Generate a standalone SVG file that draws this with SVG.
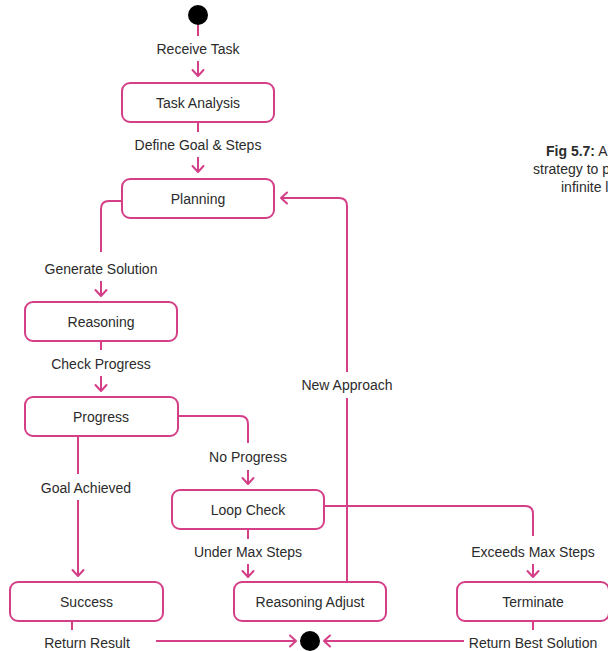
<svg xmlns="http://www.w3.org/2000/svg" width="608" height="651" viewBox="0 0 608 651">
  <style>
    .box { fill: #ffffff; stroke: #d43f88; stroke-width: 2; }
    .wire { fill: none; stroke: #d43f88; stroke-width: 2; }
    .lbl { font-family: "Liberation Sans", Arial, Helvetica, sans-serif; font-size: 14px; fill: #2b2b2b; text-anchor: middle; }
    .cap { font-family: "Liberation Sans", Arial, Helvetica, sans-serif; font-size: 14px; fill: #2b2b2b; }
    .dot { fill: #000000; }
  </style>
  <defs>
    <marker id="arr" markerUnits="userSpaceOnUse" markerWidth="14" markerHeight="14" refX="11" refY="7" orient="auto">
      <path d="M5,1.5 L11,7 L5,12.5" fill="none" stroke="#d43f88" stroke-width="2" stroke-linecap="round" stroke-linejoin="round"/>
    </marker>
  </defs>

  <rect width="608" height="651" fill="#ffffff"/>

  <!-- caption -->
  <g id="caption">
    <text class="cap" x="546" y="156"><tspan font-weight="bold">Fig 5.7:</tspan> A</text>
    <text class="cap" x="533" y="174">strategy to p</text>
    <text class="cap" x="561" y="192">infinite l</text>
  </g>

  <!-- connectors -->
  <g id="connectors">
    <line class="wire" x1="198" y1="24" x2="198" y2="36"/>
    <line class="wire" x1="198" y1="61" x2="198" y2="76" marker-end="url(#arr)"/>

    <line class="wire" x1="198" y1="122" x2="198" y2="132"/>
    <line class="wire" x1="198" y1="157" x2="198" y2="172" marker-end="url(#arr)"/>

    <path class="wire" d="M122,201 H109 Q101,201 101,209 V252"/>
    <line class="wire" x1="101" y1="281" x2="101" y2="296" marker-end="url(#arr)"/>

    <line class="wire" x1="101" y1="341" x2="101" y2="350"/>
    <line class="wire" x1="101" y1="376" x2="101" y2="391" marker-end="url(#arr)"/>

    <path class="wire" d="M178,416 H240 Q248,416 248,424 V443"/>
    <line class="wire" x1="248" y1="470" x2="248" y2="484" marker-end="url(#arr)"/>

    <line class="wire" x1="78" y1="436" x2="78" y2="474"/>
    <line class="wire" x1="78" y1="500" x2="78" y2="576" marker-end="url(#arr)"/>

    <line class="wire" x1="248" y1="529" x2="248" y2="539"/>
    <line class="wire" x1="248" y1="564" x2="248" y2="577" marker-end="url(#arr)"/>

    <path class="wire" d="M324,506 H525 Q533,506 533,514 V536"/>
    <line class="wire" x1="533" y1="564" x2="533" y2="577" marker-end="url(#arr)"/>

    <line class="wire" x1="347" y1="582" x2="347" y2="398"/>
    <path class="wire" d="M347,372 V206 Q347,198 339,198 H281" marker-end="url(#arr)"/>

    <line class="wire" x1="72" y1="621" x2="72" y2="630"/>
    <line class="wire" x1="156" y1="641" x2="296" y2="641" marker-end="url(#arr)"/>

    <line class="wire" x1="533" y1="621" x2="533" y2="630"/>
    <line class="wire" x1="464" y1="641" x2="324" y2="641" marker-end="url(#arr)"/>

    <text class="lbl" x="198" y="54">Receive Task</text>
    <text class="lbl" x="198" y="150">Define Goal &amp; Steps</text>
    <text class="lbl" x="101" y="274">Generate Solution</text>
    <text class="lbl" x="101" y="369">Check Progress</text>
    <text class="lbl" x="248" y="462">No Progress</text>
    <text class="lbl" x="86" y="493">Goal Achieved</text>
    <text class="lbl" x="347" y="390">New Approach</text>
    <text class="lbl" x="248" y="557">Under Max Steps</text>
    <text class="lbl" x="533" y="557">Exceeds Max Steps</text>
    <text class="lbl" x="87" y="648">Return Result</text>
    <text class="lbl" x="533" y="648">Return Best Solution</text>
  </g>

  <!-- nodes -->
  <g id="start"><circle class="dot" cx="198" cy="15" r="10"/></g>
  <g id="task-analysis">
    <rect class="box" x="122" y="83" width="152" height="39" rx="8"/>
    <text class="lbl" x="198" y="107.5">Task Analysis</text>
  </g>
  <g id="planning">
    <rect class="box" x="122" y="179" width="152" height="39" rx="8"/>
    <text class="lbl" x="198" y="203.5">Planning</text>
  </g>
  <g id="reasoning">
    <rect class="box" x="25" y="302" width="152" height="39" rx="8"/>
    <text class="lbl" x="101" y="326.5">Reasoning</text>
  </g>
  <g id="progress">
    <rect class="box" x="25" y="397" width="153" height="39" rx="8"/>
    <text class="lbl" x="101" y="421.5">Progress</text>
  </g>
  <g id="loop-check">
    <rect class="box" x="172" y="490" width="152" height="39" rx="8"/>
    <text class="lbl" x="248" y="514.5">Loop Check</text>
  </g>
  <g id="success">
    <rect class="box" x="10" y="582" width="153" height="39" rx="8"/>
    <text class="lbl" x="86.5" y="606.5">Success</text>
  </g>
  <g id="reasoning-adjust">
    <rect class="box" x="234" y="582" width="152" height="39" rx="8"/>
    <text class="lbl" x="310" y="606.5">Reasoning Adjust</text>
  </g>
  <g id="terminate">
    <rect class="box" x="457" y="582" width="152" height="39" rx="8"/>
    <text class="lbl" x="533" y="606.5">Terminate</text>
  </g>
  <g id="end"><circle class="dot" cx="310" cy="641" r="10"/></g>
</svg>
